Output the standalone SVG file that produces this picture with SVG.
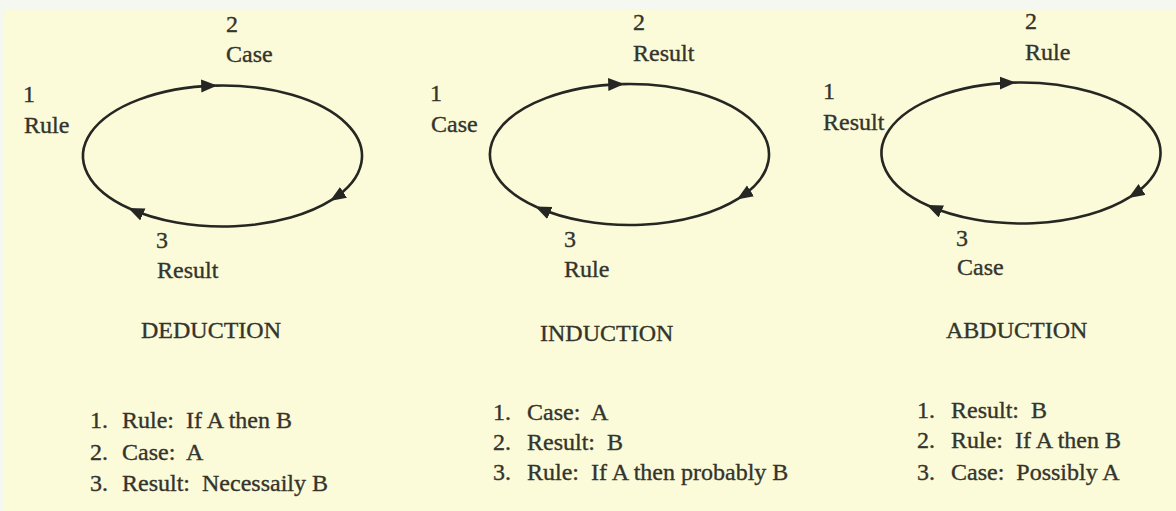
<svg xmlns="http://www.w3.org/2000/svg" width="1176" height="511" viewBox="0 0 1176 511">
<style>
  text { font-family: "Liberation Serif", "Times New Roman", serif; font-size: 24px; fill: #34342c; stroke: #34342c; stroke-width: 0.35px; white-space: pre; }
  .arc { fill: none; stroke: #262622; stroke-width: 2.6; marker-end: url(#arrow); }
</style>
<defs>
  <marker id="arrow" markerUnits="userSpaceOnUse" markerWidth="18" markerHeight="14" refX="14" refY="6.5" orient="auto">
    <path d="M0,0 L16,6.5 L0,13 Z" fill="#262622"/>
  </marker>
</defs>
<rect x="0" y="0" width="1176" height="511" fill="#f5f7f1"/>
<rect x="4" y="10" width="1172" height="501" fill="#fbfbd9"/>

<g id="connectors">
  <g transform="translate(222.5,156)">
    <path class="arc" d="M-92.43,52.8 A139.5,70.5 0 0 1 -7.3,-70.4"/>
    <path class="arc" d="M-7.3,-70.4 A139.5,70.5 0 0 1 109.17,43.89"/>
    <path class="arc" d="M109.17,43.89 A139.5,70.5 0 0 1 -92.43,52.8"/>
  </g>
  <g transform="translate(629.5,154.5)">
    <path class="arc" d="M-92.43,52.8 A139.5,70.5 0 0 1 -7.3,-70.4"/>
    <path class="arc" d="M-7.3,-70.4 A139.5,70.5 0 0 1 109.17,43.89"/>
    <path class="arc" d="M109.17,43.89 A139.5,70.5 0 0 1 -92.43,52.8"/>
  </g>
  <g transform="translate(1021,153)">
    <path class="arc" d="M-92.43,52.8 A139.5,70.5 0 0 1 -7.3,-70.4"/>
    <path class="arc" d="M-7.3,-70.4 A139.5,70.5 0 0 1 109.17,43.89"/>
    <path class="arc" d="M109.17,43.89 A139.5,70.5 0 0 1 -92.43,52.8"/>
  </g>
</g>

<!-- Deduction -->
<g id="ded-1-rule"><text x="23" y="102">1</text><text x="24" y="133">Rule</text></g>
<g id="ded-2-case"><text x="226" y="32">2</text><text x="226" y="62">Case</text></g>
<g id="ded-3-result"><text x="156" y="248">3</text><text x="157" y="278">Result</text></g>
<g id="ded-title"><text x="141" y="338">DEDUCTION</text></g>
<g id="ded-list">
  <text x="90" y="428">1.</text><text x="122" y="428">Rule:  If A then B</text>
  <text x="90" y="460">2.</text><text x="122" y="460">Case:  A</text>
  <text x="90" y="491">3.</text><text x="122" y="491">Result:  Necessaily B</text>
</g>

<!-- Induction -->
<g id="ind-1-case"><text x="430" y="101">1</text><text x="431" y="132">Case</text></g>
<g id="ind-2-result"><text x="633" y="30">2</text><text x="633" y="61">Result</text></g>
<g id="ind-3-rule"><text x="564" y="247">3</text><text x="564" y="277">Rule</text></g>
<g id="ind-title"><text x="540" y="341">INDUCTION</text></g>
<g id="ind-list">
  <text x="493" y="420">1.</text><text x="527" y="420">Case:  A</text>
  <text x="493" y="450">2.</text><text x="527" y="450">Result:  B</text>
  <text x="493" y="480">3.</text><text x="527" y="480">Rule:  If A then probably B</text>
</g>

<!-- Abduction -->
<g id="abd-1-result"><text x="823" y="99">1</text><text x="823" y="130">Result</text></g>
<g id="abd-2-rule"><text x="1025" y="29">2</text><text x="1025" y="60">Rule</text></g>
<g id="abd-3-case"><text x="956" y="246">3</text><text x="957" y="275">Case</text></g>
<g id="abd-title"><text x="946" y="338">ABDUCTION</text></g>
<g id="abd-list">
  <text x="917" y="418">1.</text><text x="951" y="418">Result:  B</text>
  <text x="917" y="448">2.</text><text x="951" y="448">Rule:  If A then B</text>
  <text x="917" y="480">3.</text><text x="951" y="480">Case:  Possibly A</text>
</g>
</svg>
